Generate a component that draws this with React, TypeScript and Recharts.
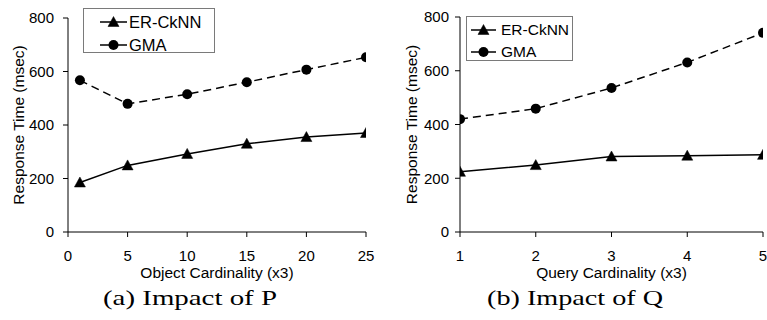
import React from "react";
import { LineChart, Line, XAxis, YAxis, Legend } from "recharts";

const xP = [1, 5, 10, 15, 20, 25];
const erP = [185, 249, 292, 330, 355, 370];
const gmaP = [567, 479, 515, 560, 607, 653];
const xTicksP = [0, 5, 10, 15, 20, 25];

const xQ = [1, 2, 3, 4, 5];
const erQ = [224, 249, 281, 284, 287];
const gmaQ = [420, 459, 536, 631, 741];
const xTicksQ = [1, 2, 3, 4, 5];

const yTicks = [0, 200, 400, 600, 800];
const seriesNames = ["ER-CkNN", "GMA"];
const yTitle = "Response Time (msec)";
const xTitleP = "Object Cardinality (x3)";
const xTitleQ = "Query Cardinality (x3)";
const captionP = "(a) Impact of P";
const captionQ = "(b) Impact of Q";

const SANS = "'Liberation Sans', Arial, sans-serif";
const SERIF = "'Liberation Serif', 'Times New Roman', serif";

const Tri = (props: any) => {
  const { cx, cy } = props;
  if (cx == null || cy == null) return null;
  return <path d={`M${cx},${cy - 5.5} L${cx + 5.5},${cy + 4.5} L${cx - 5.5},${cy + 4.5} Z`} fill="#000" stroke="#000" strokeWidth={0.5} />;
};
const Dot = (props: any) => {
  const { cx, cy } = props;
  if (cx == null || cy == null) return null;
  return <circle cx={cx} cy={cy} r={5} fill="#000" />;
};

const LegendBox = ({ w, h, lineX, lineLen, textX, fs, rows }: any) => (
  <div style={{ position: "relative", width: w, height: h, border: "1px solid #7a7a7a", boxSizing: "border-box", background: "#fff", fontFamily: SANS }}>
    {seriesNames.map((n, i) => (
      <div key={n} style={{ position: "absolute", left: 0, top: rows[i] - 10, height: 20, width: w - 2 }}>
        <svg width={lineX + lineLen + 4} height={20} style={{ position: "absolute", left: 0, top: 0 }}>
          <line x1={lineX} x2={lineX + lineLen} y1={10} y2={10} stroke="#000" strokeWidth={1.5} />
          {i === 0 ? <Tri cx={lineX + lineLen / 2} cy={10} /> : <Dot cx={lineX + lineLen / 2} cy={10} />}
        </svg>
        <span style={{ position: "absolute", left: textX, top: 0, lineHeight: "20px", fontSize: fs, color: "#000", whiteSpace: "nowrap" }}>{n}</span>
      </div>
    ))}
  </div>
);

const Panel = ({ xs, er, gma, xTicks, domain, xTitle, caption, left, width, m, yW, yTickMargin, yTitleX, legend, captionX, captionW }: any) => {
  const data = xs.map((x: number, i: number) => ({ x, er: er[i], gma: gma[i] }));
  const H = 290;
  return (
    <div style={{ position: "absolute", left, top: 0, width, height: 320 }}>
      <LineChart width={width} height={H} data={data} margin={m}>
        <XAxis
          dataKey="x"
          type="number"
          domain={domain}
          ticks={xTicks}
          allowDataOverflow
          axisLine={{ stroke: "#000", strokeWidth: 1 }}
          tickLine={{ stroke: "#000" }}
          tickSize={5}
          tickMargin={13}
          height={50}
          tick={{ fill: "#000", fontSize: 15, fontFamily: SANS }}
          interval={0}
          label={(p: any) => {
            const vb = p.viewBox;
            return (
              <text x={vb.x + vb.width / 2} y={vb.y + 45.5} textAnchor="middle" fontSize={15.5} fontFamily={SANS} fill="#000">
                {xTitle}
              </text>
            );
          }}
        />
        <YAxis
          type="number"
          domain={[0, 800]}
          ticks={yTicks}
          width={yW}
          axisLine={{ stroke: "#000", strokeWidth: 1 }}
          tickLine={{ stroke: "#000" }}
          tickSize={5}
          tickMargin={yTickMargin}
          tick={{ fill: "#000", fontSize: 15, fontFamily: SANS }}
          interval={0}
          label={(p: any) => {
            const vb = p.viewBox;
            const cy = vb.y + vb.height / 2;
            return (
              <text x={yTitleX} y={cy} transform={`rotate(-90 ${yTitleX} ${cy})`} textAnchor="middle" dominantBaseline="central" fontSize={15.5} fontFamily={SANS} fill="#000">
                {yTitle}
              </text>
            );
          }}
        />
        <Legend
          layout="horizontal"
          verticalAlign="middle"
          align="center"
          wrapperStyle={{ left: legend.x, top: legend.y, width: legend.w, height: legend.h }}
          content={() => <LegendBox {...legend} />}
        />
        <Line dataKey="er" name={seriesNames[0]} stroke="#000" strokeWidth={1.5} dot={<Tri />} activeDot={false} isAnimationActive={false} />
        <Line dataKey="gma" name={seriesNames[1]} stroke="#000" strokeWidth={1.5} strokeDasharray="8 5" dot={<Dot />} activeDot={false} isAnimationActive={false} />
      </LineChart>
      <svg width={width} height={40} style={{ position: "absolute", left: 0, top: 278 }}>
        <text x={captionX} y={27} textAnchor="middle" fontSize={21} fontFamily={SERIF} fill="#000" textLength={captionW} lengthAdjust="spacingAndGlyphs">
          {caption}
        </text>
      </svg>
    </div>
  );
};

export default function App() {
  return (
    <div style={{ position: "absolute", left: 0, top: 0, width: 767, height: 320, background: "#fff", overflow: "hidden" }}>
      <Panel
        xs={xP}
        er={erP}
        gma={gmaP}
        xTicks={xTicksP}
        domain={[0, 25]}
        xTitle={xTitleP}
        caption={captionP}
        left={0}
        width={384}
        m={{ top: 18, right: 18, left: 0, bottom: 8 }}
        yW={68}
        yTickMargin={9}
        yTitleX={18}
        legend={{ x: 83, y: 8, w: 132, h: 45, lineX: 16, lineLen: 27, textX: 45, fs: 16.5, rows: [13, 36] }}
        captionX={190}
        captionW={174}
      />
      <Panel
        xs={xQ}
        er={erQ}
        gma={gmaQ}
        xTicks={xTicksQ}
        domain={[1, 5]}
        xTitle={xTitleQ}
        caption={captionQ}
        left={384}
        width={383}
        m={{ top: 17, right: 4, left: 0, bottom: 8 }}
        yW={76}
        yTickMargin={6}
        yTitleX={27}
        legend={{ x: 82, y: 16, w: 107, h: 45, lineX: 4, lineLen: 25, textX: 34, fs: 15.5, rows: [12.5, 35] }}
        captionX={191}
        captionW={176}
      />
    </div>
  );
}
